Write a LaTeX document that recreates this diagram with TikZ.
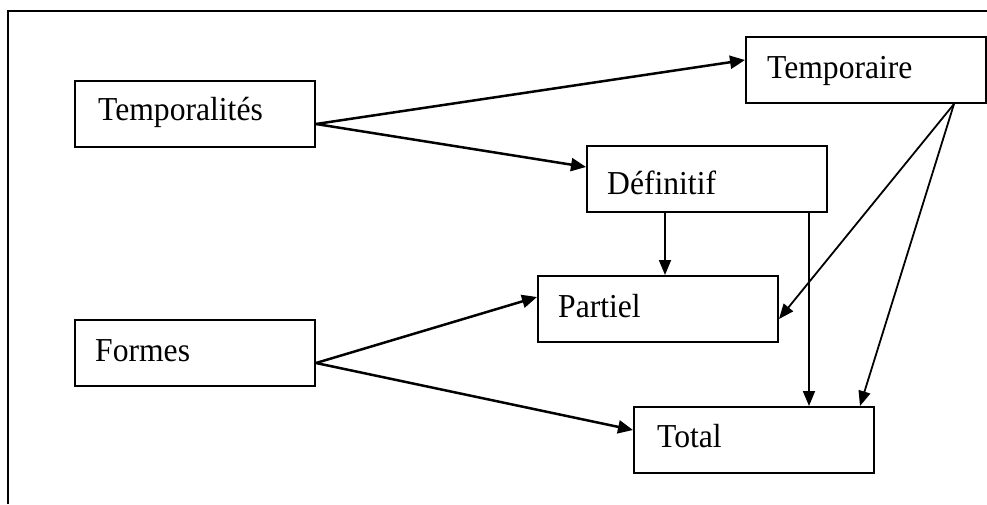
\documentclass[tikz,border=0pt]{standalone}
\usepackage{fontspec}
\setmainfont{Liberation Serif}
\usetikzlibrary{arrows.meta,calc}
\newcommand{\tallword}[1]{\scalebox{1.02}[1.08]{#1}}
\begin{document}
\begin{tikzpicture}[x=1pt,y=-1pt,
  box/.style={draw,line width=2pt,minimum width=240pt,minimum height=66pt,inner sep=0pt},
  lbl/.style={anchor=base west,inner sep=0pt,font=\fontsize{31}{37}\selectfont},
  thick arr/.style={line width=2.5pt,-{Triangle[length=15pt,width=13pt]}},
  thin arr/.style={line width=1.8pt,-{Triangle[length=15pt,width=12pt]}}]
\useasboundingbox (0,0) rectangle (987,504);
\draw[line width=2.2pt] (8.3,504) -- (8.3,11.3) -- (987,11.3);
% boxes
\node[box] (tl) at (195,113.5) {};
\node[box] (tp) at (866,70) {};
\node[box] (df) at (707,179) {};
\node[box] (pa) at (658,309) {};
\node[box] (fo) at (195,353) {};
\node[box] (to) at (754,440) {};
% labels
\node[lbl] (tlt) at ($(tl.north west)+(24,41)$) {\tallword{Temporalités}};
\node[lbl] (tpt) at ($(tp.north west)+(22,42)$) {\tallword{Temporaire}};
\node[lbl] (dft) at ($(df.north west)+(21,49)$) {\tallword{Définitif}};
\node[lbl] (pat) at ($(pa.north west)+(21,42)$) {\tallword{Partiel}};
\node[lbl] (fot) at ($(fo.north west)+(21,42)$) {\tallword{Formes}};
\node[lbl] (tot) at ($(to.north west)+(24,41)$) {\tallword{Total}};
% connector points
\coordinate (tlo) at ($(tl.east)+(0,10.5)$);
\coordinate (foo) at ($(fo.east)+(0,10)$);
\coordinate (tpo) at ($(tp.south east)+(-33,0)$);
\coordinate (dfa) at ($(df.south west)+(79,0)$);
\coordinate (dfb) at ($(df.south west)+(223,0)$);
% connectors
\draw[thick arr] (tlo) -- ($(tp.west)+(0,-10)$);
\draw[thick arr] (tlo) -- ($(df.west)+(0,-12)$);
\draw[thin arr] (dfa) -- (dfa |- pa.north);
\draw[thin arr] (dfb) -- (dfb |- to.north);
\draw[thin arr] (tpo) -- ($(pa.east)+(0,10)$);
\draw[thin arr] (tpo) -- ($(to.north east)+(-15,0)$);
\draw[thick arr] (foo) -- ($(pa.west)+(0,-12)$);
\draw[thick arr] (foo) -- ($(to.west)+(0,-10)$);
\end{tikzpicture}
\end{document}
